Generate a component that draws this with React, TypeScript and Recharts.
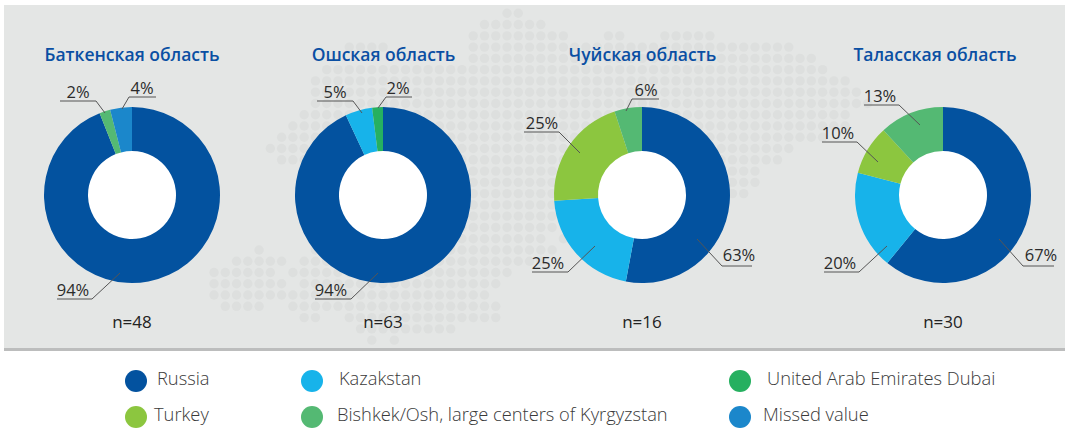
import { PieChart, Pie, Cell } from 'recharts'

const regions = ['Баткенская область', 'Ошская область', 'Чуйская область', 'Таласская область']
const sampleSizes = [48, 63, 16, 30]

const batkenNames = ['Russia', 'Bishkek/Osh, large centers of Kyrgyzstan', 'Missed value']
const batkenValues = [94, 2, 4]
const oshNames = ['Russia', 'Kazakstan', 'United Arab Emirates Dubai']
const oshValues = [94, 5, 2]
const chuyNames = ['Russia', 'Kazakstan', 'Turkey', 'Bishkek/Osh, large centers of Kyrgyzstan']
const chuyValues = [63, 25, 25, 6]
const talasNames = ['Russia', 'Kazakstan', 'Turkey', 'Bishkek/Osh, large centers of Kyrgyzstan']
const talasValues = [67, 20, 10, 13]

const colors: Record<string, string> = {
  Russia: '#03529f',
  Kazakstan: '#17b3ea',
  'United Arab Emirates Dubai': '#26b060',
  Turkey: '#8cc63f',
  'Bishkek/Osh, large centers of Kyrgyzstan': '#54b973',
  'Missed value': '#1b87cb',
}

// layout below, not data
const W = 1065
const H = 430
const CY = 195
const centers = [132, 383, 642, 943]
const titleX = [132, 383.5, 642.5, 935]

// leader per slice, relative to pie center: start, elbow, underline end, text x, baseline
type Leader = [number, number, number, number, number, number, number]
const batkenLeaders: Leader[] = [
  [-12, 78, -40, 104, -75, -59, 101],
  [-27, -82, -36, -94, -72, -54, -97],
  [-10, -86, -3, -98, 24, 10, -101],
]
const oshLeaders: Leader[] = [
  [-5, 78, -32, 104, -68, -52, 101],
  [-21, -82, -30, -94, -66, -48, -97],
  [-5, -87, 3, -98, 29, 15, -101],
]
const chuyLeaders: Leader[] = [
  [55, 44, 80, 71, 110, 97, 66],
  [-47, 51, -74, 77, -110, -94, 74],
  [-62, -42, -83, -63, -118, -100, -66],
  [-16, -84, -10, -96, 17, 4, -99],
]
const talasLeaders: Leader[] = [
  [56, 44, 80, 71, 111, 98, 66],
  [-56, 51, -84, 77, -119, -103, 74],
  [-65, -33, -86, -53, -121, -105, -56],
  [-23, -70, -44, -90, -79, -63, -93],
]

// background dot map: spans of columns per row
const mapRows: number[][][] = [
  [[-1, 0]],
  [[-3, 2]],
  [[-4, 4], [8, 9], [13, 17]],
  [[-15, -12], [-4, 24]],
  [[-4, 26]],
  [[-17, 27]],
  [[-18, 29]],
  [[-18, 30]],
  [[-18, 31]],
  [[-19, 29]],
  [[-20, 29]],
  [[-21, 27]],
  [[-22, 24]],
  [[-21, 23]],
  [[-18, 21]],
  [[-18, 21]],
  [[-18, 20]],
  [[-18, 15]],
  [[-18, 8]],
  [[-18, 3]],
  [[-18, 2], [4, 4]],
  [[-23, -23], [-18, 3]],
  [[-25, -21], [-19, 2]],
  [[-27, -22], [-20, -1]],
  [[-27, -21], [-19, -2]],
  [[-27, -3]],
  [[-26, -23], [-20, -2]],
  [[-19, -18], [-15, -2]],
  [[-14, -6]],
  [[-13, -13], [-11, -11]],
]

const legendItems = [
  ['Russia', 136, 381, 157, 385],
  ['Kazakstan', 312, 381, 339, 385],
  ['United Arab Emirates Dubai', 740, 381, 767, 385],
  ['Turkey', 136, 417, 154, 421],
  ['Bishkek/Osh, large centers of Kyrgyzstan', 312, 417, 337, 421],
  ['Missed value', 740, 417, 763, 421],
] as const

const font = '"Open Sans", sans-serif'

const makeLabel = (leaders: Leader[]) => (props: any) => {
  const { cx, cy, index, value } = props
  const [sx, sy, ex, ey, ux, tx, ty] = leaders[index]
  return (
    <g>
      <polyline
        points={`${cx + sx},${cy + sy} ${cx + ex},${cy + ey} ${cx + ux},${cy + ey}`}
        fill="none"
        stroke="#555"
        strokeWidth={1}
      />
      <text x={cx + tx} y={cy + ty} textAnchor="middle" fontFamily={font} fontSize={16.5} fill="#2b2b2b">
        {value}%
      </text>
    </g>
  )
}

const pies = [
  { names: batkenNames, values: batkenValues, leaders: batkenLeaders },
  { names: oshNames, values: oshValues, leaders: oshLeaders },
  { names: chuyNames, values: chuyValues, leaders: chuyLeaders },
  { names: talasNames, values: talasValues, leaders: talasLeaders },
]

export default function App() {
  return (
    <div style={{ position: 'absolute', left: 0, top: 0, width: W, height: H, background: '#fff', overflow: 'hidden' }}>
      <svg width={W} height={H} style={{ position: 'absolute', left: 0, top: 0 }}>
        <rect x={4} y={5} width={W - 4} height={343} fill="#e4e6e5" />
        <rect x={4} y={348} width={W - 4} height={3} fill="#bcbdbd" />
        {mapRows.map((spans, k) =>
          spans.map(([a, b]) =>
            Array.from({ length: b - a + 1 }, (_, i) => (
              <circle key={`${k}-${a + i}`} cx={518.3 + 11.27 * (a + i)} cy={13.3 + 11.27 * k} r={4.7} fill="#dddfde" />
            )),
          ),
        )}
        {centers.map((c) => (
          <circle key={c} cx={c} cy={CY} r={45} fill="#fff" />
        ))}
        {regions.map((r, i) => (
          <text key={r} x={titleX[i]} y={61} textAnchor="middle" fontFamily={font} fontWeight={600} fontSize={17.5} fill="#0a4fa3">
            {r}
          </text>
        ))}
        {sampleSizes.map((n, i) => (
          <text key={i} x={centers[i]} y={328} textAnchor="middle" fontFamily={font} fontSize={17} fill="#222">
            n={n}
          </text>
        ))}
        {legendItems.map(([name, dx, dy, tx, ty]) => (
          <g key={name}>
            <circle cx={dx} cy={dy} r={11} fill={colors[name]} />
            <text x={tx} y={ty} fontFamily={font} fontWeight={300} fontSize={18.3} fill="#3a3a3a">
              {name}
            </text>
          </g>
        ))}
      </svg>
      <div style={{ position: 'absolute', left: 0, top: 0 }}>
        <PieChart width={W} height={H} margin={{ top: 0, right: 0, bottom: 0, left: 0 }}>
          {pies.map((p, i) => (
            <Pie
              key={i}
              data={p.names.map((name, j) => ({ name, value: p.values[j] }))}
              dataKey="value"
              nameKey="name"
              cx={centers[i]}
              cy={CY}
              outerRadius={88}
              innerRadius={44}
              startAngle={90}
              endAngle={-270}
              stroke="none"
              labelLine={false}
              label={makeLabel(p.leaders)}
              isAnimationActive={false}
            >
              {p.names.map((name) => (
                <Cell key={name} fill={colors[name]} />
              ))}
            </Pie>
          ))}
        </PieChart>
      </div>
    </div>
  )
}
